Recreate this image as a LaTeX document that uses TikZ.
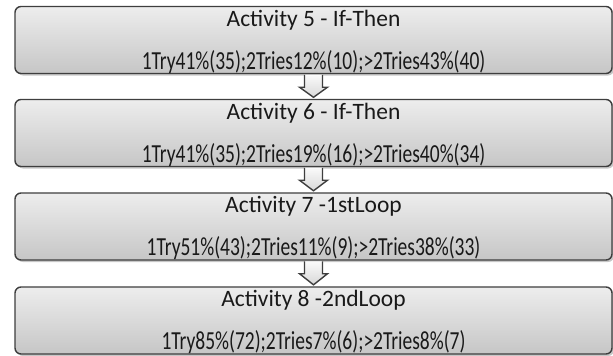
\documentclass[tikz,border=0pt]{standalone}
\usepackage{fontspec}
\setmainfont{Carlito}
\newfontfamily\condfont[FakeStretch=0.75]{Carlito}
\usetikzlibrary{calc,shadows}
\definecolor{boxtop}{HTML}{EDEDED}
\definecolor{boxbot}{HTML}{C6C6C6}
\definecolor{boxborder}{HTML}{3E3E3E}
\definecolor{arrtop}{HTML}{FAFAFA}
\definecolor{arrbot}{HTML}{D8D8D8}
\begin{document}
\begin{tikzpicture}[x=1pt,y=-1pt,
  actbox/.style={draw=boxborder, line width=1.4pt, rounded corners=6pt,
    top color=boxtop, bottom color=boxbot, minimum width=597pt,
    minimum height=67pt, inner sep=0pt,
    drop shadow={shadow xshift=2pt, shadow yshift=-2pt, opacity=0.22, fill=black}},
  titletext/.style={anchor=base, inner sep=0pt, text=black!90,
    font=\fontsize{23.5}{28}\selectfont},
  datatext/.style={anchor=base, inner sep=0pt, text=black!90,
    font=\condfont\fontsize{26}{30}\selectfont},
  blockarrow/.style={draw=boxborder, line width=1.4pt, line join=miter,
    top color=arrtop, bottom color=arrbot}
]
\useasboundingbox (0,0) rectangle (613,356);

\node[actbox] (b1) at (313.5,40) {};
\node[actbox] (b2) at (313.5,133) {};
\node[actbox] (b3) at (313.5,226.5) {};
\node[actbox] (b4) at (313.5,320.5) {};

\node[titletext] (t1) at ($(b1.north)+(0,20.5)$) {Activity 5 - If-Then};
\node[datatext] (d1) at ($(b1.south)+(0,-5)$) {1Try41\%(35);2Tries12\%(10);>2Tries43\%(40)};
\node[titletext] (t2) at ($(b2.north)+(0,20.5)$) {Activity 6 - If-Then};
\node[datatext] (d2) at ($(b2.south)+(0,-5)$) {1Try41\%(35);2Tries19\%(16);>2Tries40\%(34)};
\node[titletext] (t3) at ($(b3.north)+(0,20.5)$) {Activity 7 -1stLoop};
\node[datatext] (d3) at ($(b3.south)+(0,-5)$) {1Try51\%(43);2Tries11\%(9);>2Tries38\%(33)};
\node[titletext] (t4) at ($(b4.north)+(0,20.5)$) {Activity 8 -2ndLoop};
\node[datatext] (d4) at ($(b4.south)+(0,-5)$) {1Try85\%(72);2Tries7\%(6);>2Tries8\%(7)};

\foreach \a/\b in {b1/b2, b2/b3, b3/b4}{
  \path[blockarrow]
    ($(\a.south)+(-9,0.7)$) -- ($(\a.south)+(-9,13)$) -- ($(\a.south)+(-14,13)$)
    -- ($(\b.north)+(0,-1.5)$) -- ($(\a.south)+(14,13)$) -- ($(\a.south)+(9,13)$)
    -- ($(\a.south)+(9,0.7)$);
}
\end{tikzpicture}
\end{document}
